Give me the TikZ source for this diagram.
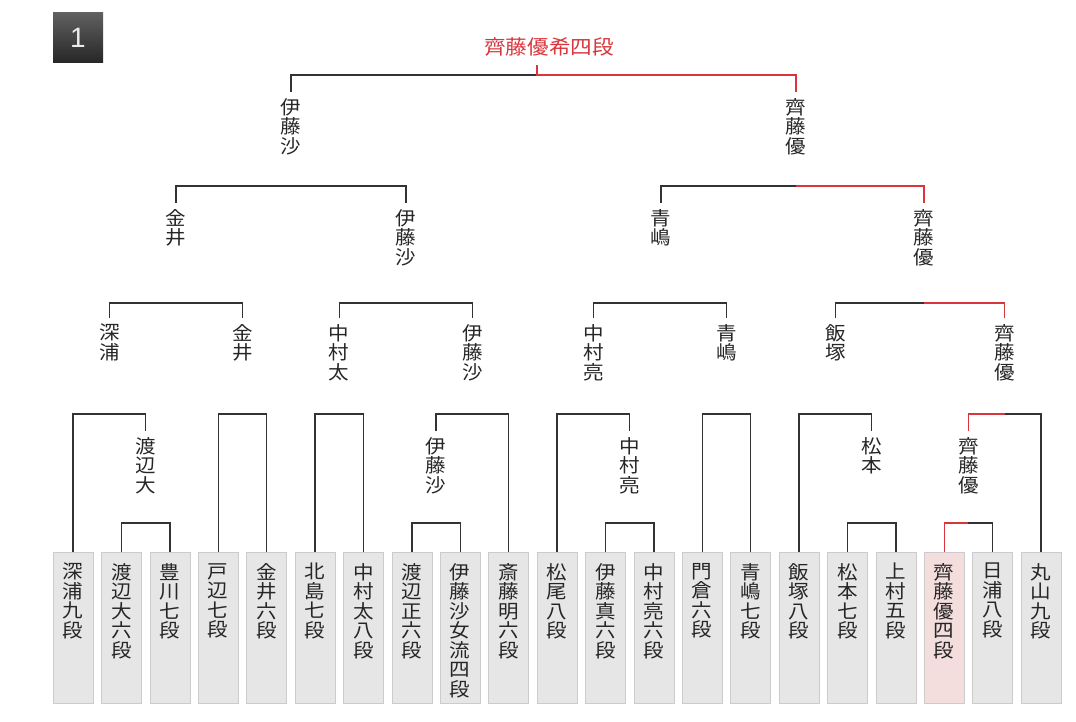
\documentclass[tikz,border=0pt]{standalone}
\usepackage{fontspec}
\newfontfamily\jp[FakeStretch=1.08]{Noto Sans CJK JP}
\newfontfamily\numfont{Liberation Sans}
\definecolor{winred}{HTML}{D8363C}
\definecolor{linegray}{HTML}{333333}
\definecolor{platefill}{HTML}{E6E6E6}
\definecolor{plateline}{HTML}{CBCBCB}
\definecolor{pinkfill}{HTML}{F3DDDD}
\newcommand{\plate}[1]{\parbox[t][129pt][t]{40pt}{\centering #1}}
\tikzset{
  ln/.style={draw=linegray, line width=1.4pt},
  win/.style={draw=winred, line width=1.4pt},
  lbl/.style={anchor=north, inner xsep=0pt, inner ysep=6pt, align=center,
    font=\fontsize{19}{19.5}\selectfont\jp, text=black!85},
  player/.style={anchor=north, draw=plateline, fill=platefill, inner xsep=0pt,
    inner ysep=11pt, font=\fontsize{19}{19.5}\selectfont\jp, text=black!85},
  badge/.style={minimum size=50pt, inner sep=0pt, top color=gray!75!black,
    bottom color=black!85, text=white!92!black, font=\fontsize{28}{30}\selectfont\numfont},
}
\begin{document}
\begin{tikzpicture}[x=1pt, y=-1pt]
    \useasboundingbox (0,0) rectangle (1076,722);

    \node[badge] at (78,38) (num) {1};
    \node[lbl, anchor=center, inner ysep=0pt, text=winred, font=\fontsize{20}{20}\selectfont\jp] at (549,47) (champ) {齊藤優希四段};
    \coordinate (tick) at (537,65);

    % players
    \node[player] at (73,552) (p1) {\plate{深\\浦\\九\\段}};
    \node[player] at (121.4,552) (p2) {\plate{渡\\辺\\大\\六\\段}};
    \node[player] at (169.8,552) (p3) {\plate{豊\\川\\七\\段}};
    \node[player] at (218.2,552) (p4) {\plate{戸\\辺\\七\\段}};
    \node[player] at (266.6,552) (p5) {\plate{金\\井\\六\\段}};
    \node[player] at (315,552) (p6) {\plate{北\\島\\七\\段}};
    \node[player] at (363.4,552) (p7) {\plate{中\\村\\太\\八\\段}};
    \node[player] at (411.8,552) (p8) {\plate{渡\\辺\\正\\六\\段}};
    \node[player] at (460.2,552) (p9) {\plate{伊\\藤\\沙\\女\\流\\四\\段}};
    \node[player] at (508.6,552) (p10) {\plate{斎\\藤\\明\\六\\段}};
    \node[player] at (557,552) (p11) {\plate{松\\尾\\八\\段}};
    \node[player] at (605.4,552) (p12) {\plate{伊\\藤\\真\\六\\段}};
    \node[player] at (653.8,552) (p13) {\plate{中\\村\\亮\\六\\段}};
    \node[player] at (702.2,552) (p14) {\plate{門\\倉\\六\\段}};
    \node[player] at (750.6,552) (p15) {\plate{青\\嶋\\七\\段}};
    \node[player] at (799,552) (p16) {\plate{飯\\塚\\八\\段}};
    \node[player] at (847.4,552) (p17) {\plate{松\\本\\七\\段}};
    \node[player] at (895.8,552) (p18) {\plate{上\\村\\五\\段}};
    \node[player, fill=pinkfill] at (944.2,552) (p19) {\plate{齊\\藤\\優\\四\\段}};
    \node[player] at (992.6,552) (p20) {\plate{日\\浦\\八\\段}};
    \node[player] at (1041,552) (p21) {\plate{丸\\山\\九\\段}};

    % winners of each round
    \node[lbl] at (145.6,431) (w1) {渡\\辺\\大};
    \node[lbl] at (436,431) (w2) {伊\\藤\\沙};
    \node[lbl] at (629.6,431) (w3) {中\\村\\亮};
    \node[lbl] at (871.6,431) (w4) {松\\本};
    \node[lbl] at (968.4,431) (w5) {齊\\藤\\優};

    \node[lbl] at (109.3,318) (a1) {深\\浦};
    \node[lbl] at (242.4,318) (a2) {金\\井};
    \node[lbl] at (339.2,318) (a3) {中\\村\\太};
    \node[lbl] at (472.3,318) (a4) {伊\\藤\\沙};
    \node[lbl] at (593.3,318) (a5) {中\\村\\亮};
    \node[lbl] at (726.4,318) (a6) {青\\嶋};
    \node[lbl] at (835.3,318) (a7) {飯\\塚};
    \node[lbl] at (1004.7,318) (a8) {齊\\藤\\優};

    \node[lbl] at (176,203) (b1) {金\\井};
    \node[lbl] at (406,203) (b2) {伊\\藤\\沙};
    \node[lbl] at (661,203) (b3) {青\\嶋};
    \node[lbl] at (924,203) (b4) {齊\\藤\\優};

    \node[lbl] at (291,92) (c1) {伊\\藤\\沙};
    \node[lbl] at (796,92) (c2) {齊\\藤\\優};

    % brackets
    \draw[ln] (p2.north) -- (p2.north |- 0,523) -| (p3.north);
    \draw[ln] (p8.north) -- (p8.north |- 0,523) -| (p9.north);
    \draw[ln] (p12.north) -- (p12.north |- 0,523) -| (p13.north);
    \draw[ln] (p17.north) -- (p17.north |- 0,523) -| (p18.north);
    \draw[ln] (p19.north) -- (p19.north |- 0,523) -| (p20.north);

    \draw[ln] (p1.north) -- (p1.north |- 0,414) -| (w1.north);
    \draw[ln] (p4.north) -- (p4.north |- 0,414) -| (p5.north);
    \draw[ln] (p6.north) -- (p6.north |- 0,414) -| (p7.north);
    \draw[ln] (w2.north) -- (w2.north |- 0,414) -| (p10.north);
    \draw[ln] (p11.north) -- (p11.north |- 0,414) -| (w3.north);
    \draw[ln] (p14.north) -- (p14.north |- 0,414) -| (p15.north);
    \draw[ln] (p16.north) -- (p16.north |- 0,414) -| (w4.north);
    \draw[ln] (w5.north) -- (w5.north |- 0,414) -| (p21.north);

    \draw[ln] (a1.north) -- (a1.north |- 0,303) -| (a2.north);
    \draw[ln] (a3.north) -- (a3.north |- 0,303) -| (a4.north);
    \draw[ln] (a5.north) -- (a5.north |- 0,303) -| (a6.north);
    \draw[ln] (a7.north) -- (a7.north |- 0,303) -| (a8.north);

    \draw[ln] (b1.north) -- (b1.north |- 0,186) -| (b2.north);
    \draw[ln] (b3.north) -- (b3.north |- 0,186) -| (b4.north);

    \draw[ln] (c1.north) -- (c1.north |- 0,75) -| (c2.north);

    % path of the winner
    \draw[win] (p19.north) -- (p19.north |- 0,523) -- (w5.north |- 0,523);
    \draw[win] (w5.north) -- (w5.north |- 0,414) -- (a8.north |- 0,414);
    \draw[win] (a8.north) -- (a8.north |- 0,303) -- (b4.north |- 0,303);
    \draw[win] (b4.north) -- (b4.north |- 0,186) -- (c2.north |- 0,186);
    \draw[win] (c2.north) -- (c2.north |- 0,75) -- (tick |- 0,75) -- (tick);

\end{tikzpicture}
\end{document}
